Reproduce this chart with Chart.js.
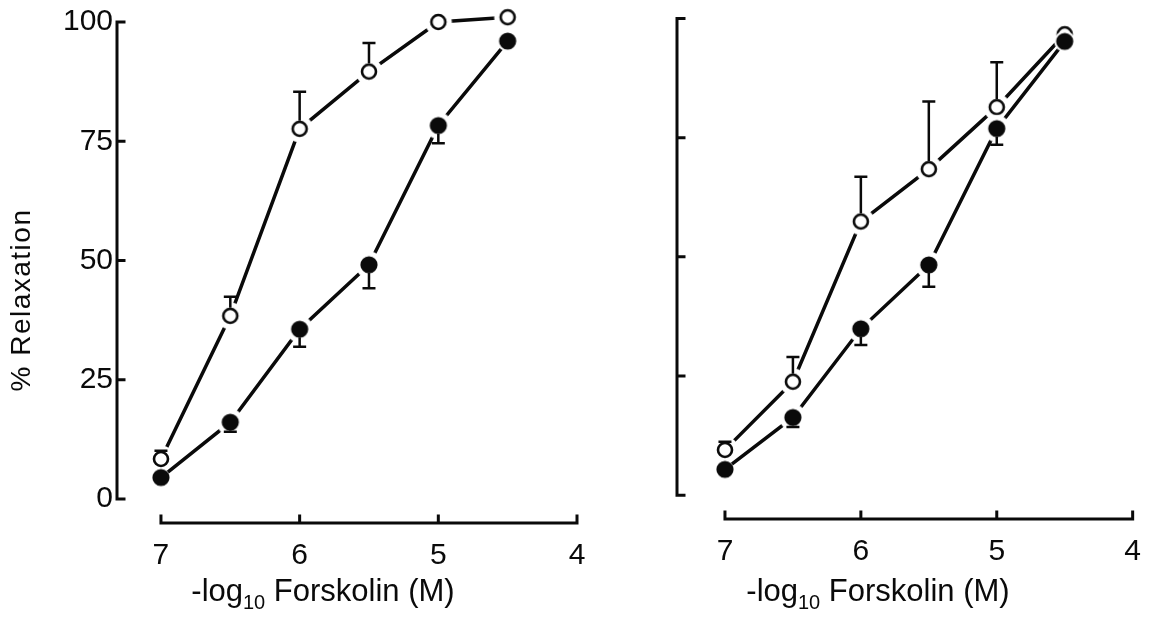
<!DOCTYPE html>
<html>
<head>
<meta charset="utf-8">
<title>Forskolin relaxation</title>
<script src="https://cdn.jsdelivr.net/npm/chart.js@4.4.1/dist/chart.umd.min.js"></script>
<style>
  html, body { margin: 0; padding: 0; background: #fff; overflow: hidden; }
  .panel { position: absolute; top: 0; height: 618px; }
  #leftPanel { left: 0; width: 620px; }
  #rightPanel { left: 620px; width: 536px; }
</style>
</head>
<body>
<div class="panel" id="leftPanel"><canvas id="leftChart"></canvas></div>
<div class="panel" id="rightPanel"><canvas id="rightChart"></canvas></div>
<script>
// -log10 [forskolin] (M)
const concentrations = [7, 6.5, 6, 5.5, 5, 4.5];
const xTicks = [7, 6, 5, 4];
const yTicks = [0, 25, 50, 75, 100];

// left panel, % relaxation (mean and SEM)
const leftOpen = [8.4, 38.4, 77.6, 89.6, 100, 101];
const leftOpenSem = [1.7, 4, 7.8, 6, 0, 0];
const leftFilled = [4.5, 16.1, 35.6, 49.1, 78.3, 96];
const leftFilledSem = [0, 2, 3.7, 4.9, 3.7, 0];

// right panel
const rightOpen = [9.5, 23.8, 57.4, 68.4, 81.4, 96.7];
const rightOpenSem = [1.7, 5.2, 9.4, 14.2, 9.4, 0];
const rightFilled = [5.4, 16.3, 34.9, 48.3, 76.9, 95.2];
const rightFilledSem = [0, 2, 3.4, 4.6, 3.4, 0];

const ink = '#0a0a0a';
const fontFamily = '"Liberation Sans", Arial, sans-serif';

function points(values) {
    return concentrations.map((c, i) => ({ x: c, y: values[i] }));
}

// symbol sprite: a white clearance disk so the joining lines stop short of the symbol
function symbol(filled, clear) {
    const size = 30, m = size / 2;
    const c = document.createElement('canvas');
    c.width = c.height = size;
    const g = c.getContext('2d');
    g.fillStyle = '#fff';
    g.beginPath();
    g.arc(m, m, clear, 0, Math.PI * 2);
    g.fill();
    g.beginPath();
    if (filled) {
        g.arc(m, m, 8.6, 0, Math.PI * 2);
        g.fillStyle = ink;
        g.fill();
    } else {
        g.arc(m, m, 7, 0, Math.PI * 2);
        g.lineWidth = 2.6;
        g.strokeStyle = ink;
        g.stroke();
    }
    return c;
}
const openSymbol = symbol(false, 13.5);
const filledSymbol = symbol(true, 13.5);
// smaller clearance where the filled symbol sits against an open one
const filledTight = symbol(true, 9);
const filledSnug = symbol(true, 10.5);

function filledStyle(ctx) {
    if (ctx.dataIndex === 0) return filledTight;
    if (ctx.dataIndex === concentrations.length - 1) return filledSnug;
    return filledSymbol;
}

// axes drawn by hand: ticks point inwards and the x axis sits apart from the y axis
const handAxes = {
    id: 'handAxes',
    afterDraw(chart, args, opts) {
        const ctx = chart.ctx;
        const xs = chart.scales.x, ys = chart.scales.y;
        const left = chart.chartArea.left, bottom = chart.chartArea.bottom;
        ctx.save();
        ctx.strokeStyle = ink;
        ctx.lineWidth = 3;
        ctx.lineCap = 'square';
        ctx.beginPath();
        ctx.moveTo(left, ys.getPixelForValue(0));
        ctx.lineTo(left, ys.getPixelForValue(100));
        yTicks.forEach(v => {
            const py = ys.getPixelForValue(v);
            ctx.moveTo(left, py);
            ctx.lineTo(left + 7, py);
        });
        const xa = xs.getPixelForValue(xTicks[0]);
        const xb = xs.getPixelForValue(xTicks[xTicks.length - 1]);
        ctx.moveTo(xa, bottom);
        ctx.lineTo(xb, bottom);
        xTicks.forEach(v => {
            const px = xs.getPixelForValue(v);
            ctx.moveTo(px, bottom);
            ctx.lineTo(px, bottom - 7);
        });
        ctx.stroke();

        // x axis title with subscript
        ctx.fillStyle = ink;
        ctx.textBaseline = 'alphabetic';
        const big = '31px ' + fontFamily, small = '20px ' + fontFamily;
        const parts = [['-log', big, 0], ['10', small, 8], [' Forskolin (M)', big, 0]];
        let total = 0;
        parts.forEach(p => { ctx.font = p[1]; total += ctx.measureText(p[0]).width; });
        let tx = opts.titleX - total / 2;
        parts.forEach(p => {
            ctx.font = p[1];
            ctx.fillText(p[0], tx, opts.titleY + p[2]);
            tx += ctx.measureText(p[0]).width;
        });

        if (opts.yTitle) {
            ctx.save();
            ctx.translate(opts.yTitleX, opts.yTitleY);
            ctx.rotate(-Math.PI / 2);
            ctx.font = '28px ' + fontFamily;
            ctx.letterSpacing = '1.5px';
            ctx.textAlign = 'center';
            ctx.textBaseline = 'middle';
            ctx.fillText(opts.yTitle, 0, 0);
            ctx.restore();
        }
        ctx.restore();
    }
};

// one-sided SEM bars: open symbols upwards, filled symbols downwards
const semBars = {
    id: 'semBars',
    afterDatasetsDraw(chart) {
        const ctx = chart.ctx;
        const ys = chart.scales.y;
        ctx.save();
        ctx.strokeStyle = ink;
        ctx.lineWidth = 2.5;
        chart.data.datasets.forEach((ds, di) => {
            const meta = chart.getDatasetMeta(di);
            meta.data.forEach((pt, i) => {
                const sem = ds.sem[i];
                if (!sem) return;
                const yEnd = ys.getPixelForValue(ds.data[i].y + ds.dir * sem);
                const yStart = pt.y - ds.dir * 8;
                ctx.beginPath();
                ctx.moveTo(pt.x, yStart);
                ctx.lineTo(pt.x, yEnd);
                ctx.moveTo(pt.x - 6.5, yEnd);
                ctx.lineTo(pt.x + 6.5, yEnd);
                ctx.stroke();
            });
        });
        ctx.restore();
    }
};

function makeChart(id, open, openSem, filled, filledSem, frame) {
    const series = (values, sem, dir, sprite) => ({
        data: points(values), sem: sem, dir: dir,
        borderColor: ink, borderWidth: 3.5, tension: 0, clip: false,
        pointStyle: sprite, pointRadius: 15
    });
    const ctx = document.getElementById(id).getContext('2d');
    return new Chart(ctx, {
        type: 'line',
        data: {
            // first dataset is drawn last, so filled symbols sit on top
            datasets: [
                series(filled, filledSem, -1, filledStyle),
                series(open, openSem, 1, openSymbol)
            ]
        },
        options: {
            responsive: true,
            maintainAspectRatio: false,
            animation: false,
            events: [],
            layout: { padding: { left: 0, right: frame.padRight, top: frame.padTop, bottom: 0 } },
            plugins: {
                legend: { display: false },
                tooltip: { enabled: false },
                handAxes: frame.axes
            },
            scales: {
                x: {
                    type: 'linear',
                    reverse: true,
                    min: 4,
                    max: frame.xMax,
                    afterBuildTicks: s => { s.ticks = xTicks.map(v => ({ value: v })); },
                    afterFit: s => { s.height = frame.xHeight; },
                    grid: { display: false, drawTicks: false },
                    border: { display: false },
                    ticks: {
                        color: ink, padding: 15, maxRotation: 0,
                        font: { family: fontFamily, size: 30 }
                    }
                },
                y: {
                    type: 'linear',
                    min: frame.yMin,
                    max: 100,
                    afterBuildTicks: s => { s.ticks = yTicks.map(v => ({ value: v })); },
                    afterFit: s => { s.width = frame.yWidth; },
                    grid: { display: false, drawTicks: false },
                    border: { display: false },
                    ticks: {
                        display: frame.yLabels, color: ink, padding: 4,
                        font: { family: fontFamily, size: 30 }
                    }
                }
            }
        },
        plugins: [semBars, handAxes]
    });
}

makeChart('leftChart', leftOpen, leftOpenSem, leftFilled, leftFilledSem, {
    padRight: 43, padTop: 22, xHeight: 95, yWidth: 117, xMax: 7.317, yMin: -5.03, yLabels: true,
    axes: { titleX: 323, titleY: 601, yTitle: '% Relaxation', yTitleX: 22, yTitleY: 300 }
});

makeChart('rightChart', rightOpen, rightOpenSem, rightFilled, rightFilledSem, {
    padRight: 14, padTop: 15, xHeight: 99, yWidth: 57, xMax: 7.353, yMin: -5, yLabels: false,
    axes: { titleX: 258, titleY: 601, yTitle: null }
});
</script>
</body>
</html>
